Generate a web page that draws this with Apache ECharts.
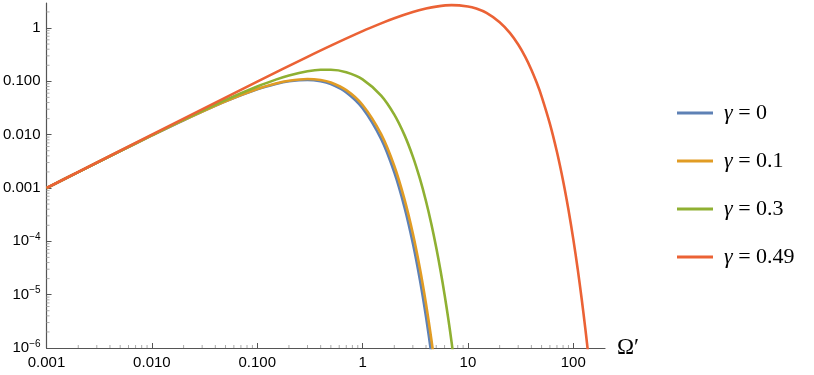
<!DOCTYPE html>
<html>
<head>
<meta charset="utf-8">
<script src="https://cdn.jsdelivr.net/npm/echarts@6/dist/echarts.min.js"></script>
<style>html,body{margin:0;padding:0;background:#fff}#c{width:814px;height:375px}</style>
</head>
<body>
<div id="c"></div>
<script>
// Data
const omegaBlue   = [0.001,0.002,0.005,0.01,0.02,0.05,0.1,0.15,0.2,0.3,0.4,0.5,0.7,1,1.5,2,2.5,3,3.5,4,4.5,5];
const valuesBlue  = [0.000997,0.001986,0.004914,0.00966,0.018661,0.042049,0.070725,0.089216,0.100036,0.10612,0.10007,0.088466,0.061954,0.031309,0.00831,0.0019606,0.0004336,0.00009207,0.000019,0.00000384,0.000000765,0.00000015];
const omegaOrange  = [0.001,0.002,0.005,0.01,0.02,0.05,0.1,0.15,0.2,0.3,0.4,0.5,0.7,1,1.5,2,2.5,3,3.5,4,4.5,5];
const valuesOrange = [0.000997,0.001987,0.004918,0.009673,0.018713,0.042342,0.071713,0.091094,0.102854,0.11064,0.10579,0.09483,0.06829,0.03597,0.010235,0.002588,0.000613,0.0001397,0.0000309,0.0000067,0.00000143,0.000000301];
const omegaGreen  = [0.001,0.002,0.005,0.01,0.02,0.05,0.1,0.15,0.2,0.3,0.4,0.5,0.7,1,1.5,2,2.5,3,3.5,4,4.5,5,5.5,6,6.5,7,8];
const valuesGreen = [0.000998,0.001991,0.004945,0.009781,0.019133,0.044754,0.080115,0.10756,0.12837,0.15427,0.16479,0.16503,0.1483,0.1089,0.05393,0.023732,0.009792,0.0038776,0.0014934,0.0005632,0.00020916,0.0000767,0.00002785,0.00001003,0.000003585,0.000001274,0.0000001586];
const omegaRed  = [0.001,0.01,0.1,0.3,0.5,1,1.5,2,3,4,5,7,10,12,15,20,25,30,35,40,45,50,60,70,80,90,100,110,120,130,135,140];
const valuesRed = [0.001,0.009986,0.098637,0.2879,0.46685,0.8718,1.2209,1.5201,1.9878,2.3106,2.5178,2.6792,2.536,2.3131,1.916,1.286,0.80958,0.4893,0.28748,0.16544,0.093717,0.05243,0.015954,0.0047201,0.001368,0.0003902,0.00010996,0.00003068,0.00000848,0.000002331,0.0000012199,0.000000637];
const seriesNames = ['γ = 0','γ = 0.1','γ = 0.3','γ = 0.49'];
const seriesColors = ['#5E81B5','#E19C24','#8FB032','#EB6235'];
const xTickLabels = {'-3':'0.001','-2':'0.010','-1':'0.100','0':'1','1':'10','2':'100'};
const yTickLabels = {'-6':'{b|10}{s|−6}','-5':'{b|10}{s|−5}','-4':'{b|10}{s|−4}','-3':'0.001','-2':'0.010','-1':'0.100','0':'1'};
const xMin = 0.001, xMax = 200, yMin = 1e-6, yMax = 2.94;

function pairs(xs, ys){ return xs.map((x,i)=>[x, ys[i]]); }
function lab(map){ return function(v){ const l = Math.log10(v); const r = Math.round(l); if (Math.abs(l-r) > 1e-6) return ''; return map[String(r)] || ''; }; }
function minorTicks(lo, hi){ const out=[]; for(let e=Math.floor(Math.log10(lo)); e<=Math.ceil(Math.log10(hi)); e++){ for(let m=2;m<=9;m++){ const v=m*Math.pow(10,e); if(v>lo*1.0001 && v<hi*0.9999) out.push(v);} } return out; }

const SANS = 'Liberation Sans';
const SERIF = 'Liberation Serif';
const axisColor = '#555';
const minorColor = '#aaa';
const chart = echarts.init(document.getElementById('c'), null, {renderer:'canvas'});
const data = [pairs(omegaBlue,valuesBlue), pairs(omegaOrange,valuesOrange), pairs(omegaGreen,valuesGreen), pairs(omegaRed,valuesRed)];

const minorX = {type:'custom',coordinateSystem:'cartesian2d',silent:true,clip:false,z:1,
  data:minorTicks(xMin,xMax).map(v=>[v,yMin]),
  renderItem:function(params, api){ const p = api.coord([api.value(0), yMin]);
    return {type:'line',shape:{x1:p[0],y1:p[1],x2:p[0],y2:p[1]-3},style:{stroke:minorColor,lineWidth:1}}; }};
const minorY = {type:'custom',coordinateSystem:'cartesian2d',silent:true,clip:false,z:1,
  data:minorTicks(yMin,yMax).map(v=>[xMin,v]),
  renderItem:function(params, api){ const p = api.coord([xMin, api.value(1)]);
    return {type:'line',shape:{x1:p[0],y1:p[1],x2:p[0]+3,y2:p[1]},style:{stroke:minorColor,lineWidth:1}}; }};

chart.setOption({
  animation:false,
  textStyle:{fontFamily:SANS},
  grid:{left:45,right:209,top:3,bottom:27,containLabel:false},
  xAxis:{type:'log',logBase:10,min:xMin,max:xMax,
    name:'Ω′',nameLocation:'end',nameGap:12,nameTextStyle:{fontFamily:SERIF,fontSize:23,color:'#000',verticalAlign:'middle'},
    axisLine:{lineStyle:{color:axisColor,width:1.2}},
    axisTick:{inside:true,length:5,lineStyle:{color:axisColor}},
    axisLabel:{formatter:lab(xTickLabels),fontFamily:SANS,fontSize:15,color:'#000',margin:7,showMaxLabel:false},
    splitLine:{show:false}},
  yAxis:{type:'log',logBase:10,min:yMin,max:yMax,
    axisLine:{show:true,lineStyle:{color:axisColor,width:1.2}},
    axisTick:{show:true,inside:true,length:5,lineStyle:{color:axisColor}},
    axisLabel:{formatter:lab(yTickLabels),fontFamily:SANS,fontSize:15,color:'#000',margin:6,showMaxLabel:false,
      rich:{b:{fontFamily:SANS,fontSize:15,color:'#000'},s:{fontFamily:SANS,fontSize:10,color:'#000',padding:[0,0,8,0]}}},
    splitLine:{show:false}},
  legend:{orient:'vertical',left:672,top:97,itemWidth:36,itemHeight:3,itemGap:26,icon:'rect',
    data:seriesNames,
    formatter:function(n){ return '{g|γ}{t|' + n.slice(1) + '}'; },
    textStyle:{fontFamily:SERIF,fontSize:22,padding:[0,0,0,6],rich:{g:{fontFamily:SERIF,fontStyle:'italic',fontSize:22,color:'#000'},t:{fontFamily:SERIF,fontSize:22,color:'#000'}}}},
  series:data.map((d,i)=>({name:seriesNames[i],type:'line',data:d,showSymbol:false,smooth:0.3,clip:true,
    lineStyle:{color:seriesColors[i],width:2.6},itemStyle:{color:seriesColors[i]}, z:2+i})).concat([minorX, minorY])
});
</script>
</body>
</html>
